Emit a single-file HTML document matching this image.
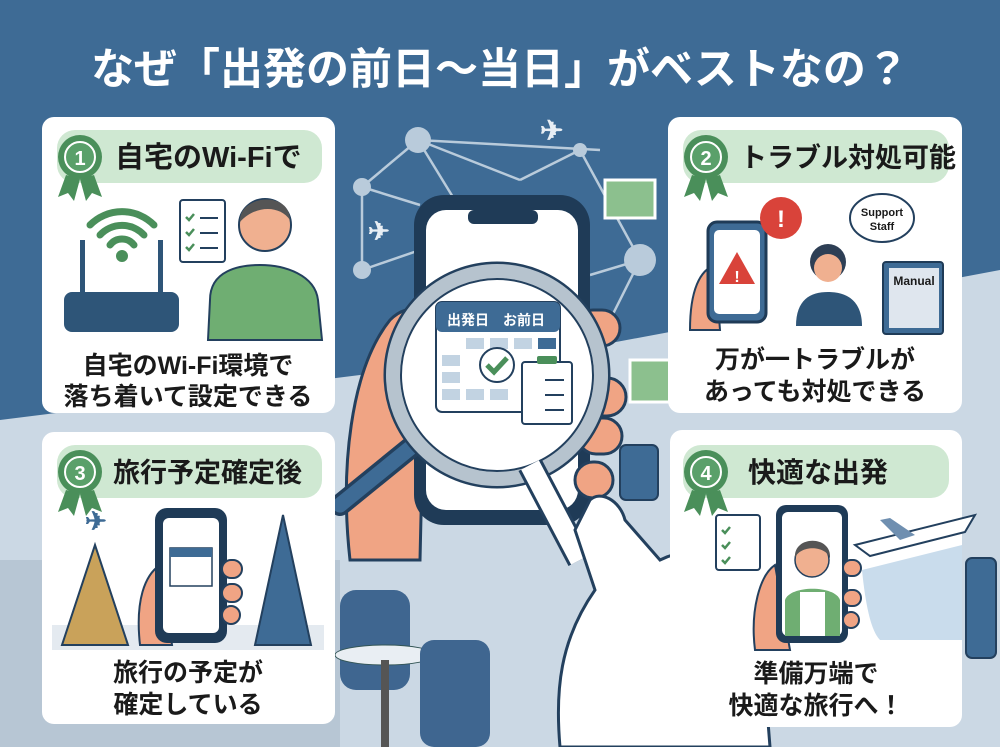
<!DOCTYPE html>
<html><head><meta charset="utf-8"><style>
body{margin:0;width:1000px;height:747px;overflow:hidden;font-family:"Liberation Sans","Noto Sans CJK JP",sans-serif;}
svg text{font-family:"Liberation Sans","Noto Sans CJK JP",sans-serif;font-weight:bold;}
</style></head><body>
<svg width="1000" height="747" viewBox="0 0 1000 747" xmlns="http://www.w3.org/2000/svg">
<rect width="1000" height="747" fill="#3e6b95"/>
<!-- lighter lower areas -->
<polygon points="0,420 600,345 1000,270 1000,747 0,747" fill="#cbd8e4"/>
<rect x="0" y="560" width="340" height="187" fill="#b7c6d4"/>
<!-- network -->
<g stroke="#b9cbdb" stroke-width="2.5" fill="none">
<line x1="418" y1="140" x2="470" y2="225"/><line x1="418" y1="140" x2="362" y2="187"/><line x1="418" y1="140" x2="520" y2="180"/>
<line x1="362" y1="187" x2="362" y2="270"/><line x1="362" y1="270" x2="420" y2="250"/><line x1="520" y1="180" x2="580" y2="150"/>
<line x1="580" y1="150" x2="640" y2="260"/><line x1="640" y1="260" x2="590" y2="275"/><line x1="640" y1="260" x2="610" y2="320"/>
<line x1="362" y1="187" x2="420" y2="205"/><line x1="418" y1="140" x2="600" y2="150"/>
</g>
<g fill="#b9cbdb"><circle cx="418" cy="140" r="13"/><circle cx="362" cy="187" r="9"/><circle cx="362" cy="270" r="9"/><circle cx="640" cy="260" r="16"/><circle cx="580" cy="150" r="7"/></g>
<text x="368" y="240" font-size="26" fill="#e8eef4">✈</text>
<text x="540" y="140" font-size="28" fill="#e8eef4">✈</text>
<rect x="605" y="180" width="50" height="38" fill="#8cc08e" stroke="#fff" stroke-width="3"/>
<rect x="630" y="360" width="40" height="42" fill="#8cc08e" stroke="#fff" stroke-width="3"/>
<rect x="620" y="445" width="38" height="55" rx="6" fill="#3e6b95" stroke="#23405e" stroke-width="2"/>
<!-- chair/table left bottom -->
<rect x="340" y="590" width="70" height="100" rx="16" fill="#3f6690"/>
<ellipse cx="385" cy="655" rx="50" ry="10" fill="#e9eef3" stroke="#355" stroke-width="1"/>
<rect x="381" y="660" width="8" height="87" fill="#555"/>
<rect x="420" y="640" width="70" height="107" rx="14" fill="#3f6690"/>
<!-- left hand -->
<path d="M350,560 C340,470 350,370 390,320 C410,300 430,310 425,340 L420,560 Z" fill="#f0a484" stroke="#23405e" stroke-width="3"/>
<!-- phone -->
<rect x="414" y="195" width="176" height="330" rx="30" fill="#1f3b57"/>
<rect x="426" y="210" width="152" height="300" rx="20" fill="#fff"/>
<rect x="468" y="210" width="70" height="14" rx="6" fill="#1f3b57"/>
<!-- right fingers -->
<g fill="#f0a484" stroke="#23405e" stroke-width="3">
<rect x="575" y="310" width="45" height="36" rx="18"/><rect x="578" y="378" width="48" height="38" rx="19"/><rect x="578" y="418" width="44" height="36" rx="18"/><rect x="575" y="462" width="38" height="36" rx="18"/>
</g>
<!-- magnifier -->
<line x1="420" y1="440" x2="340" y2="505" stroke="#23405e" stroke-width="22" stroke-linecap="round"/>
<line x1="420" y1="440" x2="340" y2="505" stroke="#3e6b95" stroke-width="15" stroke-linecap="round"/>
<circle cx="497" cy="375" r="112" fill="#fff" stroke="#23405e" stroke-width="3"/>
<circle cx="497" cy="375" r="104" fill="none" stroke="#b6c3ce" stroke-width="14"/>
<circle cx="497" cy="375" r="96" fill="#fff" stroke="#23405e" stroke-width="2"/>
<rect x="436" y="302" width="124" height="110" rx="6" fill="#fff" stroke="#23405e" stroke-width="2"/>
<rect x="436" y="302" width="124" height="30" rx="6" fill="#3e6b95"/>
<text x="447" y="325" font-size="14" fill="#fff">出発日　お前日</text>
<g fill="#c2d3e2">
<rect x="466" y="338" width="18" height="11"/><rect x="490" y="338" width="18" height="11"/><rect x="514" y="338" width="18" height="11"/><rect x="538" y="338" width="18" height="11" fill="#3e6b95"/>
<rect x="442" y="355" width="18" height="11"/><rect x="442" y="372" width="18" height="11"/><rect x="442" y="389" width="18" height="11"/>
<rect x="466" y="389" width="18" height="11"/><rect x="490" y="389" width="18" height="11"/>
</g>
<circle cx="497" cy="365" r="17" fill="#fff" stroke="#23405e" stroke-width="2"/>
<path d="M487,365 l7,7 l13,-14" stroke="#4a8f5a" stroke-width="5" fill="none"/>
<rect x="522" y="362" width="50" height="62" rx="3" fill="#fff" stroke="#23405e" stroke-width="2"/>
<rect x="537" y="356" width="20" height="8" rx="2" fill="#4a8f5a"/>
<g stroke="#23405e" stroke-width="2"><line x1="545" y1="380" x2="564" y2="380"/><line x1="545" y1="395" x2="564" y2="395"/><line x1="545" y1="410" x2="564" y2="410"/></g>
<line x1="530" y1="465" x2="580" y2="560" stroke="#23405e" stroke-width="26"/>
<line x1="530" y1="465" x2="580" y2="560" stroke="#fff" stroke-width="20"/>
<!-- white pointing hand -->
<path d="M590,500 C600,490 620,500 625,520 L660,560 C700,540 740,560 760,620 L770,747 L560,747 C555,690 560,640 595,590 L575,530 Z" fill="#fff" stroke="#23405e" stroke-width="3"/>
<!-- title -->
<text x="500" y="84" font-size="43" fill="#fff" text-anchor="middle">なぜ「出発の前日〜当日」がベストなの？</text>

<!-- Card 1 -->
<rect x="42" y="117" width="293" height="296" rx="12" fill="#fff"/>
<rect x="57" y="130" width="265" height="53" rx="18" fill="#cfe8d2"/>
<path d="M66,175 l-8,22 l10,-4 l6,8 l6,-22 Z M94,175 l8,22 l-10,-4 l-6,8 l-6,-22 Z" fill="#4a8f5a"/>
<circle cx="80" cy="157" r="22" fill="#4a8f5a"/><circle cx="80" cy="157" r="15" fill="#5aa06a" stroke="#fff" stroke-width="2"/>
<text x="80" y="165" font-size="20" fill="#fff" text-anchor="middle">1</text>
<text x="115" y="167" font-size="29" fill="#1a1a1a">自宅のWi-Fiで</text>
<path d="M90,225 a45,45 0 0 1 64,0 M100,235 a30,30 0 0 1 44,0 M110,245 a15,15 0 0 1 24,0" stroke="#4a8f5a" stroke-width="7" fill="none" stroke-linecap="round"/>
<circle cx="122" cy="256" r="6" fill="#4a8f5a"/>
<rect x="80" y="240" width="5" height="55" fill="#2e5578"/><rect x="158" y="240" width="5" height="55" fill="#2e5578"/>
<rect x="64" y="292" width="115" height="40" rx="8" fill="#2e5578"/>
<rect x="180" y="200" width="45" height="62" rx="3" fill="#fff" stroke="#23405e" stroke-width="2"/>
<g stroke="#4a8f5a" stroke-width="2.5" fill="none"><path d="M186,217 l3,3 l5,-6 M186,232 l3,3 l5,-6 M186,247 l3,3 l5,-6"/></g>
<g stroke="#23405e" stroke-width="2"><line x1="200" y1="218" x2="218" y2="218"/><line x1="200" y1="233" x2="218" y2="233"/><line x1="200" y1="248" x2="218" y2="248"/></g>
<path d="M210,300 C210,270 240,265 260,265 C285,265 315,275 318,300 L322,340 L208,340 Z" fill="#6fae72" stroke="#23405e" stroke-width="2"/>
<circle cx="265" cy="225" r="26" fill="#f0b090" stroke="#23405e" stroke-width="2"/>
<path d="M240,222 C238,195 290,190 290,220 C280,205 255,205 240,222 Z" fill="#555"/>
<text x="188" y="374" font-size="25" fill="#1a1a1a" text-anchor="middle">自宅のWi-Fi環境で</text>
<text x="188" y="405" font-size="25" fill="#1a1a1a" text-anchor="middle">落ち着いて設定できる</text>

<!-- Card 2 -->
<rect x="668" y="117" width="294" height="296" rx="12" fill="#fff"/>
<rect x="683" y="130" width="266" height="53" rx="18" fill="#cfe8d2"/>
<path d="M692,175 l-8,22 l10,-4 l6,8 l6,-22 Z M720,175 l8,22 l-10,-4 l-6,8 l-6,-22 Z" fill="#4a8f5a"/>
<circle cx="706" cy="157" r="22" fill="#4a8f5a"/><circle cx="706" cy="157" r="15" fill="#5aa06a" stroke="#fff" stroke-width="2"/>
<text x="706" y="165" font-size="20" fill="#fff" text-anchor="middle">2</text>
<text x="740" y="167" font-size="27" fill="#1a1a1a">トラブル対処可能</text>
<path d="M690,330 C690,290 700,270 715,265 L720,330 Z" fill="#f0a484" stroke="#23405e" stroke-width="2"/>
<rect x="708" y="222" width="58" height="100" rx="9" fill="#3e6b95" stroke="#1f3b57" stroke-width="3"/>
<rect x="714" y="230" width="46" height="84" rx="5" fill="#fff"/>
<polygon points="737,252 755,284 719,284" fill="#d9433a"/>
<text x="737" y="282" font-size="16" fill="#fff" text-anchor="middle">!</text>
<circle cx="781" cy="218" r="21" fill="#d9433a"/><text x="781" y="227" font-size="24" fill="#fff" text-anchor="middle">!</text>
<ellipse cx="882" cy="218" rx="32" ry="24" fill="#fff" stroke="#23405e" stroke-width="2"/>
<text x="882" y="216" font-size="11" fill="#1a1a1a" text-anchor="middle">Support</text><text x="882" y="230" font-size="11" fill="#1a1a1a" text-anchor="middle">Staff</text>
<circle cx="828" cy="262" r="18" fill="#2e3f55"/><circle cx="828" cy="268" r="14" fill="#f0b090"/>
<path d="M796,326 C796,300 810,292 828,292 C846,292 862,300 862,326 Z" fill="#2e5578"/>
<rect x="883" y="262" width="60" height="72" rx="3" fill="#3e6b95" stroke="#1f3b57" stroke-width="2"/>
<rect x="889" y="268" width="50" height="60" fill="#dfe6ee"/>
<text x="914" y="285" font-size="12" fill="#1a1a1a" text-anchor="middle">Manual</text>
<text x="815" y="368" font-size="25" fill="#1a1a1a" text-anchor="middle">万が一トラブルが</text>
<text x="815" y="400" font-size="25" fill="#1a1a1a" text-anchor="middle">あっても対処できる</text>

<!-- Card 3 -->
<rect x="42" y="432" width="293" height="292" rx="12" fill="#fff"/>
<rect x="57" y="445" width="265" height="53" rx="18" fill="#cfe8d2"/>
<path d="M66,490 l-8,22 l10,-4 l6,8 l6,-22 Z M94,490 l8,22 l-10,-4 l-6,8 l-6,-22 Z" fill="#4a8f5a"/>
<circle cx="80" cy="472" r="22" fill="#4a8f5a"/><circle cx="80" cy="472" r="15" fill="#5aa06a" stroke="#fff" stroke-width="2"/>
<text x="80" y="480" font-size="20" fill="#fff" text-anchor="middle">3</text>
<text x="113" y="482" font-size="27" fill="#1a1a1a">旅行予定確定後</text>
<rect x="52" y="625" width="272" height="25" fill="#e4eaf0"/>
<polygon points="62,645 95,545 128,645" fill="#c9a25a" stroke="#23405e" stroke-width="2"/>
<polygon points="255,645 283,515 311,645" fill="#3e6b95" stroke="#23405e" stroke-width="2"/>
<text x="85" y="530" font-size="26" fill="#3e6b95">✈</text>
<path d="M140,645 C135,600 145,575 160,565 L172,645 Z" fill="#f0a484" stroke="#23405e" stroke-width="2"/>
<rect x="155" y="508" width="72" height="135" rx="12" fill="#1f3b57"/>
<rect x="163" y="518" width="56" height="115" rx="6" fill="#fff"/>
<rect x="170" y="548" width="42" height="38" fill="#fff" stroke="#23405e" stroke-width="1.5"/>
<rect x="170" y="548" width="42" height="9" fill="#3e6b95"/>
<g fill="#f0a484" stroke="#23405e" stroke-width="2"><rect x="222" y="560" width="20" height="18" rx="9"/><rect x="222" y="584" width="20" height="18" rx="9"/><rect x="222" y="606" width="18" height="18" rx="9"/></g>
<text x="188" y="681" font-size="25" fill="#1a1a1a" text-anchor="middle">旅行の予定が</text>
<text x="188" y="713" font-size="25" fill="#1a1a1a" text-anchor="middle">確定している</text>

<!-- Card 4 -->
<rect x="670" y="430" width="292" height="297" rx="12" fill="#fff"/>
<rect x="683" y="445" width="266" height="53" rx="18" fill="#cfe8d2"/>
<path d="M692,490 l-8,22 l10,-4 l6,8 l6,-22 Z M720,490 l8,22 l-10,-4 l-6,8 l-6,-22 Z" fill="#4a8f5a"/>
<circle cx="706" cy="472" r="22" fill="#4a8f5a"/><circle cx="706" cy="472" r="15" fill="#5aa06a" stroke="#fff" stroke-width="2"/>
<text x="706" y="480" font-size="20" fill="#fff" text-anchor="middle">4</text>
<text x="818" y="482" font-size="28" fill="#1a1a1a" text-anchor="middle">快適な出発</text>
<path d="M862,570 L962,545 L962,640 L880,640 C870,630 865,600 862,570 Z" fill="#c9dcec"/>
<rect x="716" y="515" width="44" height="55" rx="3" fill="#fff" stroke="#23405e" stroke-width="2"/>
<g stroke="#4a8f5a" stroke-width="2.5" fill="none"><path d="M722,530 l3,3 l5,-6 M722,545 l3,3 l5,-6 M722,560 l3,3 l5,-6"/></g>
<path d="M855,545 L975,515 L965,532 L870,556 Z" fill="#fff" stroke="#23405e" stroke-width="2"/>
<path d="M900,540 L880,520 L890,518 L915,535 Z" fill="#6f8fb0"/>
<path d="M755,650 C750,610 760,575 775,565 L790,650 Z" fill="#f0a484" stroke="#23405e" stroke-width="2"/>
<rect x="776" y="505" width="72" height="138" rx="10" fill="#1f3b57"/>
<rect x="782" y="512" width="60" height="124" rx="6" fill="#fff"/>
<path d="M785,636 L785,600 C790,585 835,585 840,600 L840,636 Z" fill="#6fae72"/>
<rect x="800" y="592" width="25" height="44" fill="#fff"/>
<circle cx="812" cy="560" r="17" fill="#f0b090" stroke="#23405e" stroke-width="1.5"/>
<path d="M795,558 C793,535 832,535 830,558 C825,545 800,545 795,558 Z" fill="#555"/>
<g fill="#f0a484" stroke="#23405e" stroke-width="2"><rect x="843" y="560" width="18" height="16" rx="8"/><rect x="843" y="590" width="18" height="16" rx="8"/><rect x="843" y="612" width="16" height="16" rx="8"/></g>
<text x="816" y="682" font-size="25" fill="#1a1a1a" text-anchor="middle">準備万端で</text>
<text x="816" y="714" font-size="25" fill="#1a1a1a" text-anchor="middle">快適な旅行へ！</text>
<rect x="966" y="558" width="30" height="100" rx="6" fill="#3e6b95" stroke="#23405e" stroke-width="2"/>
</svg>
</body></html>
